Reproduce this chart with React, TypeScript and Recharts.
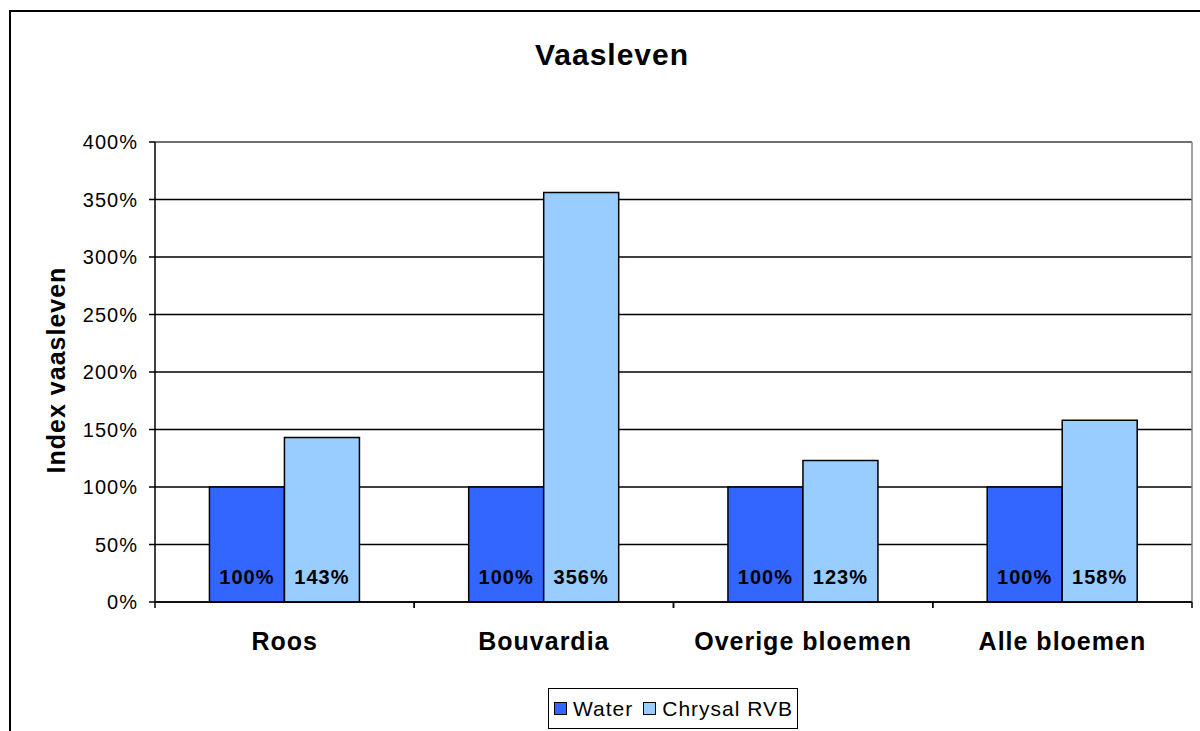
import { BarChart, Bar, XAxis, YAxis, CartesianGrid, Legend, LabelList, ReferenceLine } from 'recharts';

const categories = ['Roos', 'Bouvardia', 'Overige bloemen', 'Alle bloemen'];
const waterValues = [100, 100, 100, 100];
const chrysalValues = [143, 356, 123, 158];
const yTicks = [0, 50, 100, 150, 200, 250, 300, 350, 400];

const data = categories.map((name, i) => ({
  name,
  water: waterValues[i],
  chrysal: chrysalValues[i],
}));

const FONT = '"Liberation Sans", Arial, sans-serif';
const PLOT_LEFT = 155;
const PLOT_RIGHT = 1192;
const BAND = (PLOT_RIGHT - PLOT_LEFT) / categories.length;

const CategoryTick = (props: any) => {
  const { x, y, payload } = props;
  return (
    <g>
      <line x1={x - BAND / 2} x2={x - BAND / 2} y1={y - 8} y2={y - 2} stroke="#000" strokeWidth={1.5} />
      <line x1={x + BAND / 2} x2={x + BAND / 2} y1={y - 8} y2={y - 2} stroke="#000" strokeWidth={1.5} />
      <text
        x={x}
        y={y + 40}
        textAnchor="middle"
        fontFamily={FONT}
        fontSize={25}
        fontWeight="bold"
        letterSpacing={1}
        fill="#000"
      >
        {payload.value}
      </text>
    </g>
  );
};

const BottomLabel = (props: any) => {
  const { x, y, width, height, value } = props;
  return (
    <text
      x={x + width / 2}
      y={y + height - 18}
      textAnchor="middle"
      fontFamily={FONT}
      fontSize={20}
      fontWeight="bold"
      letterSpacing={1}
      fill="#000"
    >
      {value}%
    </text>
  );
};

const YLabel = (props: any) => {
  const { viewBox } = props;
  const cy = viewBox.y + viewBox.height / 2 - 2;
  return (
    <text
      x={56}
      y={cy}
      transform={`rotate(-90 56 ${cy})`}
      textAnchor="middle"
      dominantBaseline="central"
      fontFamily={FONT}
      fontSize={25}
      fontWeight="bold"
      letterSpacing={1}
      fill="#000"
    >
      Index vaasleven
    </text>
  );
};

const LegendBox = () => (
  <div
    style={{
      border: '1px solid #000',
      width: 250,
      height: 41,
      boxSizing: 'border-box',
      display: 'flex',
      alignItems: 'center',
      paddingLeft: 5,
      fontFamily: FONT,
      fontSize: 21,
      letterSpacing: 1,
      background: '#fff',
      color: '#000',
    }}
  >
    <span style={{ width: 11, height: 11, background: '#3366FF', border: '1px solid #000', marginRight: 6 }} />
    <span style={{ marginRight: 10 }}>Water</span>
    <span style={{ width: 11, height: 11, background: '#99CCFF', border: '1px solid #000', marginRight: 6 }} />
    <span>Chrysal RVB</span>
  </div>
);

const App = () => {
  return (
    <div style={{ position: 'absolute', left: 0, top: 0, width: 1200, height: 731, background: '#fff', overflow: 'hidden' }}>
      <div
        style={{
          position: 'absolute',
          left: 9,
          top: 10,
          width: 1300,
          height: 800,
          borderLeft: '2px solid #000',
          borderTop: '2px solid #000',
        }}
      />
      <div
        style={{
          position: 'absolute',
          left: 0,
          width: 1224,
          top: 38,
          textAlign: 'center',
          fontFamily: FONT,
          fontSize: 30,
          fontWeight: 'bold',
          letterSpacing: 1,
        }}
      >
        Vaasleven
      </div>
      <div style={{ position: 'absolute', left: 0, top: 0 }}>
        <BarChart
          width={1200}
          height={731}
          data={data}
          margin={{ top: 142, right: 8, left: 0, bottom: 48 }}
          barCategoryGap="21%"
          barGap={0}
        >
          <CartesianGrid vertical={false} stroke="#000" strokeWidth={1.5} strokeOpacity={1} />
          <CartesianGrid
            horizontal={false}
            stroke="#808080"
            strokeWidth={1.5}
            verticalCoordinatesGenerator={({ offset }: any) => [offset.left + offset.width]}
          />
          <ReferenceLine y={400} stroke="#808080" strokeWidth={1.5} />
          <XAxis
            dataKey="name"
            axisLine={{ stroke: '#000', strokeWidth: 1.5 }}
            tickLine={false}
            tick={<CategoryTick />}
            height={40}
            interval={0}
          />
          <YAxis
            width={155}
            domain={[0, 400]}
            ticks={yTicks}
            interval={0}
            tickFormatter={(v: number) => `${v}%`}
            axisLine={{ stroke: '#000', strokeWidth: 1.5 }}
            tickLine={{ stroke: '#000', strokeWidth: 1.5 }}
            tickSize={6}
            tickMargin={11}
            tick={{ fill: '#000', fontSize: 20, fontFamily: FONT, letterSpacing: 1 }}
            label={<YLabel />}
          />
          <Legend
            verticalAlign="bottom"
            content={<LegendBox />}
            wrapperStyle={{ position: 'absolute', left: 548, top: 688, width: 250, height: 41 }}
          />
          <Bar dataKey="water" name="Water" fill="#3366FF" stroke="#000" strokeWidth={1.5} isAnimationActive={false}>
            <LabelList dataKey="water" content={<BottomLabel />} />
          </Bar>
          <Bar dataKey="chrysal" name="Chrysal RVB" fill="#99CCFF" stroke="#000" strokeWidth={1.5} isAnimationActive={false}>
            <LabelList dataKey="chrysal" content={<BottomLabel />} />
          </Bar>
        </BarChart>
      </div>
    </div>
  );
};

export default App;
